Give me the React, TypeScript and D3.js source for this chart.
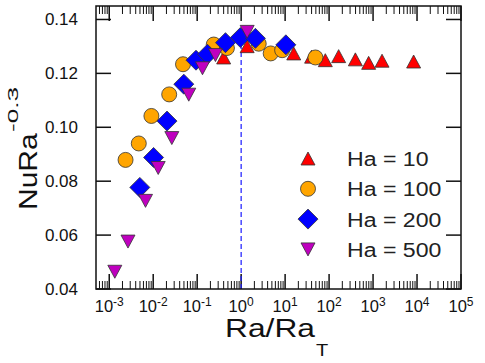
import React, { useRef, useEffect } from "react";
import * as d3 from "d3";

// Ra/Ra_T and NuRa^-0.3, one pair of arrays per Ha
const ha10X = [0.4, 1.37, 15.7, 40, 82, 165, 396, 794, 1600, 8370];
const ha10Y = [0.1259, 0.1301, 0.1274, 0.1262, 0.1249, 0.1264, 0.1252, 0.1239, 0.1247, 0.1244];

const ha100X = [0.00235, 0.0047, 0.0091, 0.0231, 0.0476, 0.238, 0.475, 2.51, 4.7, 8.55, 48.9];
const ha100Y = [0.0879, 0.094, 0.1042, 0.1122, 0.1234, 0.1307, 0.1294, 0.131, 0.1274, 0.1286, 0.1259];

const ha200X = [0.00496, 0.0102, 0.0206, 0.0496, 0.094, 0.171, 0.44, 0.96, 2.11, 10.4];
const ha200Y = [0.0777, 0.0888, 0.1023, 0.116, 0.1249, 0.1271, 0.1314, 0.1333, 0.133, 0.1306];

const ha500X = [0.00134, 0.00267, 0.00668, 0.013, 0.0265, 0.0644, 0.132, 0.26, 1.37];
const ha500Y = [0.0464, 0.0576, 0.0727, 0.0849, 0.096, 0.1121, 0.1219, 0.1268, 0.1354];

const seriesNames = ["Ha = 10", "Ha = 100", "Ha = 200", "Ha = 500"];
const yTicks = [0.04, 0.06, 0.08, 0.1, 0.12, 0.14];
const xExponents = [-3, -2, -1, 0, 1, 2, 3, 4, 5];

const shapes = {
  up: "M0,-6.5L7,6.5L-7,6.5Z",
  down: "M0,6.5L7,-6.5L-7,-6.5Z",
  diamond: "M0,-10L10,0L0,10L-10,0Z",
};

const App = () => {
  const ref = useRef(null);
  const width = 485;
  const height = 363;

  useEffect(() => {
    const svg = d3.select(ref.current);
    svg.selectAll("*").remove();

    const left = 96, right = 461, top = 6, bottom = 289;

    const x = d3.scaleLog().domain([5e-4, 1e5]).range([left, right]);
    const y = d3.scaleLinear().domain([0.04, 0.145]).range([bottom, top]);

    svg.append("rect").attr("width", width).attr("height", height).attr("fill", "#fff");

    // ticks, all pointing inward
    const minor = [];
    for (let e = -4; e < 5; e++) {
      for (let m = 2; m < 10; m++) {
        const v = m * Math.pow(10, e);
        if (v > 5e-4 && v < 1e5) minor.push(v);
      }
    }
    const ticks = svg.append("g").attr("stroke", "#111");
    minor.forEach((v) => {
      ticks.append("line").attr("x1", x(v)).attr("x2", x(v)).attr("y1", bottom).attr("y2", bottom - 8).attr("stroke-width", 1);
      ticks.append("line").attr("x1", x(v)).attr("x2", x(v)).attr("y1", top).attr("y2", top + 8).attr("stroke-width", 1);
    });
    xExponents.forEach((e) => {
      const px = x(Math.pow(10, e));
      ticks.append("line").attr("x1", px).attr("x2", px).attr("y1", bottom).attr("y2", bottom - 15).attr("stroke-width", 1.5);
      ticks.append("line").attr("x1", px).attr("x2", px).attr("y1", top).attr("y2", top + 15).attr("stroke-width", 1.5);
    });
    yTicks.forEach((v) => {
      ticks.append("line").attr("x1", left).attr("x2", left + 15).attr("y1", y(v)).attr("y2", y(v)).attr("stroke-width", 1.5);
      ticks.append("line").attr("x1", right).attr("x2", right - 15).attr("y1", y(v)).attr("y2", y(v)).attr("stroke-width", 1.5);
    });

    // tick labels
    svg.append("g")
      .selectAll("text")
      .data(yTicks)
      .enter()
      .append("text")
      .attr("x", 78)
      .attr("y", (d) => y(d) + 6)
      .attr("text-anchor", "end")
      .style("font-family", "'Liberation Sans', Arial, sans-serif")
      .style("font-size", "17px")
      .attr("fill", "#111")
      .text((d) => d.toFixed(2));

    const xl = svg.append("g")
      .style("font-family", "'Liberation Sans', Arial, sans-serif")
      .attr("fill", "#111");
    xExponents.forEach((e) => {
      const t = xl.append("text")
        .attr("x", x(Math.pow(10, e)))
        .attr("y", 311.5)
        .attr("text-anchor", "middle")
        .style("font-size", "16.5px");
      t.append("tspan").text("10");
      t.append("tspan").attr("dy", -6).style("font-size", "12px").text(e < 0 ? "-" + -e : String(e));
    });

    // dashed marker at Ra = Ra_T
    svg.append("line")
      .attr("x1", x(1)).attr("x2", x(1))
      .attr("y1", y(0.04)).attr("y2", y(0.133))
      .attr("stroke", "#1a1aff")
      .attr("stroke-width", 1.2)
      .attr("stroke-dasharray", "5,3");

    const series = [
      { xs: ha10X, ys: ha10Y, shape: "up", color: "#ff0000" },
      { xs: ha100X, ys: ha100Y, shape: "circle", color: "#ffa500" },
      { xs: ha200X, ys: ha200Y, shape: "diamond", color: "#0000ff" },
      { xs: ha500X, ys: ha500Y, shape: "down", color: "#bf00bf" },
    ];

    const drawMarker = (g, shape, color, cx, cy) => {
      const m = shape === "circle"
        ? g.append("circle").attr("cx", cx).attr("cy", cy).attr("r", 7.5)
        : g.append("path").attr("d", shapes[shape]).attr("transform", `translate(${cx},${cy})`);
      m.attr("fill", color).attr("stroke", "#333").attr("stroke-width", 0.8);
    };

    series.forEach((s) => {
      const g = svg.append("g");
      s.xs.forEach((v, i) => drawMarker(g, s.shape, s.color, x(v), y(s.ys[i])));
    });

    // frame
    svg.append("rect")
      .attr("x", left).attr("y", top)
      .attr("width", right - left).attr("height", bottom - top)
      .attr("fill", "none").attr("stroke", "#111").attr("stroke-width", 1.5);

    // legend
    const legend = svg.append("g");
    series.forEach((s, i) => {
      const ly = 158.5 + i * 30.3;
      drawMarker(legend, s.shape, s.color, 308, ly);
      legend.append("text")
        .attr("transform", `translate(347,${ly + 7.5}) scale(1.1,1)`)
        .style("font-family", "'Liberation Sans', Arial, sans-serif")
        .style("font-size", "21px")
        .attr("fill", "#222")
        .text(seriesNames[i]);
    });

    // axis titles
    const title = svg.append("g")
      .style("font-family", "'Liberation Sans', Arial, sans-serif")
      .attr("fill", "#111");
    title.append("text")
      .attr("transform", "translate(225,337) scale(1.24,1)")
      .style("font-size", "25.6px")
      .text("Ra/Ra");
    title.append("text")
      .attr("transform", "translate(316,356) scale(1.25,1)")
      .style("font-size", "16px")
      .text("T");
    title.append("text")
      .attr("transform", "translate(37,210) rotate(-90) scale(1.2,1)")
      .style("font-size", "25px")
      .text("NuRa");
    title.append("text")
      .attr("transform", "translate(18,132) rotate(-90) scale(1.75,1)")
      .style("font-size", "15px")
      .text("-0.3");
  }, []);

  return (
    <svg
      ref={ref}
      width={width}
      height={height}
      style={{ position: "absolute", left: 0, top: 0 }}
    ></svg>
  );
};

export default App;
